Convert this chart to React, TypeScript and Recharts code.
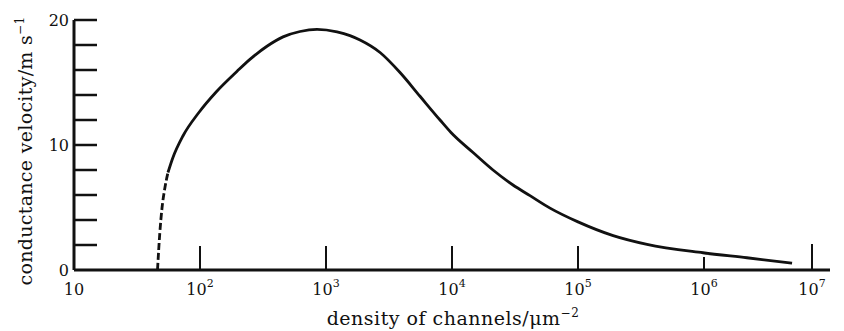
import { LineChart, Line, XAxis, YAxis, Label } from 'recharts'

// x: channel density (µm^-2), log scale; y: conduction velocity (m/s)
const densityTicks = [10, 1e2, 1e3, 1e4, 1e5, 1e6, 1e7]
const densityExponents = ['', '2', '3', '4', '5', '6', '7']
const velocityTicks = [0, 2, 4, 6, 8, 10, 12, 14, 16, 18, 20]
const velocityLabels: Record<number, string> = { 0: '0', 10: '10', 20: '20' }

// extrapolated (dashed) part near the threshold density
const dashedDensity = [46, 48, 50, 52.7, 55.7]
const dashedVelocity = [0, 3.0, 5.0, 6.6, 7.8]

// computed (solid) curve
const solidDensity = [
  55.7, 61, 73, 98, 136, 197, 249, 340, 456, 622, 849, 1223, 1549, 1862, 2685,
  3868, 5571, 8035, 9817, 14690, 21150, 30480, 41590, 59980, 1e5, 1.9e5, 3.53e5,
  9.82e5, 2.19e6, 5e6,
]
const solidVelocity = [
  7.8, 9.0, 10.7, 12.6, 14.3, 15.9, 16.85, 17.9, 18.65, 19.08, 19.25, 19.05, 18.75,
  18.4, 17.4, 15.8, 13.9, 12.0, 11.0, 9.4, 8.0, 6.8, 5.95, 4.95, 3.85, 2.75, 2.05,
  1.38, 0.98, 0.55,
]

const dashedData = dashedDensity.map((d, i) => ({ density: d, velocity: dashedVelocity[i] }))
const solidData = solidDensity.map((d, i) => ({ density: d, velocity: solidVelocity[i] }))

const FONT = '"DejaVu Serif", "Liberation Serif", serif'
const INK = '#111'

function DensityTick(props: any) {
  const { x, y, payload, index } = props
  const exp = densityExponents[index] ?? ''
  const len = payload.value === 1e6 ? 13 : payload.value === 1e7 ? 26 : 24
  return (
    <g>
      {payload.value !== 10 && (
        <line x1={x} x2={x} y1={y} y2={y - len} stroke={INK} strokeWidth={2} />
      )}
      <text x={x} y={y + 25} textAnchor="middle" fontFamily={FONT} fontSize={16} fill={INK}>
        10
        {exp && <tspan dy={-8} fontSize={11}>{exp}</tspan>}
      </text>
    </g>
  )
}

function VelocityTick(props: any) {
  const { x, y, payload } = props
  const label = velocityLabels[payload.value]
  return (
    <g>
      {payload.value !== 0 && (
        <line x1={x} x2={x + 23} y1={y} y2={y} stroke={INK} strokeWidth={2.5} />
      )}
      {label && (
        <text x={x - 5} y={y + 6} textAnchor="end" fontFamily={FONT} fontSize={16} fill={INK}>
          {label}
        </text>
      )}
    </g>
  )
}

export default function App() {
  return (
    <div style={{ position: 'absolute', left: 0, top: 0, background: '#fff' }}>
      <LineChart width={844} height={331} margin={{ top: 20, right: 14, bottom: 0, left: 0 }}>
        <XAxis
          dataKey="density"
          type="number"
          scale="log"
          domain={[10, 1e7]}
          ticks={densityTicks}
          allowDataOverflow
          height={61}
          tickSize={0}
          tickMargin={0}
          tickLine={false}
          axisLine={{ stroke: INK, strokeWidth: 3 }}
          tick={<DensityTick />}
        >
          <Label
            content={() => (
              <text
                x={453}
                y={325}
                textAnchor="middle"
                fontFamily={FONT}
                fontSize={19}
                letterSpacing={0.5}
                fill={INK}
              >
                density of channels/μm
                <tspan dy={-8} fontSize={12}>−2</tspan>
              </text>
            )}
          />
        </XAxis>
        <YAxis
          dataKey="velocity"
          type="number"
          domain={[0, 20]}
          ticks={velocityTicks}
          width={74}
          tickSize={0}
          tickMargin={0}
          tickLine={false}
          axisLine={{ stroke: INK, strokeWidth: 3 }}
          tick={<VelocityTick />}
        >
          <Label
            content={() => (
              <text
                x={0}
                y={0}
                transform="translate(32,151) rotate(-90)"
                textAnchor="middle"
                fontFamily={FONT}
                fontSize={19}
                letterSpacing={0.3}
                fill={INK}
              >
                conductance velocity/m s
                <tspan dy={-8} fontSize={12}>−1</tspan>
              </text>
            )}
          />
        </YAxis>
        <Line
          data={dashedData}
          dataKey="velocity"
          type="monotone"
          stroke={INK}
          strokeWidth={2.8}
          strokeDasharray="7 3"
          dot={false}
          isAnimationActive={false}
        />
        <Line
          data={solidData}
          dataKey="velocity"
          type="monotone"
          stroke={INK}
          strokeWidth={2.8}
          dot={false}
          isAnimationActive={false}
        />
      </LineChart>
    </div>
  )
}
